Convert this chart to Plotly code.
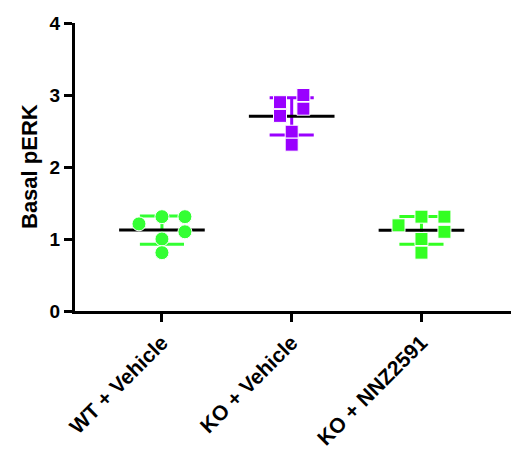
import numpy as np
import plotly.graph_objects as go

# ---- data ----
categories = ["WT + Vehicle", "KO + Vehicle", "KO + NNZ2591"]
wt_vehicle = [1.21, 1.31, 1.31, 1.10, 1.00, 0.81]
ko_vehicle = [2.90, 3.00, 2.81, 2.71, 2.49, 2.31]
ko_nnz2591 = [1.19, 1.31, 1.31, 1.10, 1.00, 0.81]
y_ticks = [0, 1, 2, 3, 4]
y_title = "Basal pERK"

# ---- style ----
groups = [wt_vehicle, ko_vehicle, ko_nnz2591]
colors = ["#33ff33", "#9900ff", "#33ff22"]
symbols = ["circle", "square", "square"]
msizes = [14, 13, 13]
# horizontal scatter spread (in category units) for each point
x_offsets = [
    [-0.177, 0, 0.177, 0.177, 0, 0],
    [-0.09, 0.09, 0.09, -0.09, 0, 0],
    [-0.177, 0, 0.177, 0.177, 0, 0],
]
mean_half = 0.33
cap_half = 0.17
FONT = "Liberation Sans, Arial, sans-serif"

fig = go.Figure()
for i, (vals, col) in enumerate(zip(groups, colors)):
    v = np.array(vals)
    m = v.mean()
    sd = v.std(ddof=1)
    fig.add_trace(go.Scatter(
        x=[i, i, None, i - cap_half, i + cap_half, None, i - cap_half, i + cap_half],
        y=[m - sd, m + sd, None, m + sd, m + sd, None, m - sd, m - sd],
        mode="lines", line=dict(color=col, width=3), hoverinfo="skip", showlegend=False))
    fig.add_trace(go.Scatter(
        x=[i - mean_half, i + mean_half], y=[m, m],
        mode="lines", line=dict(color="black", width=3), hoverinfo="skip", showlegend=False))
for i, (vals, col) in enumerate(zip(groups, colors)):
    fig.add_trace(go.Scatter(
        x=[i + o for o in x_offsets[i]], y=vals, mode="markers",
        marker=dict(symbol=symbols[i], size=msizes[i], color=col,
                    line=dict(color="white", width=1)),
        showlegend=False))

# page body has an 8px default margin, so the figure is sized to fit the window
fig.update_layout(
    width=512, height=447,
    margin=dict(l=67, r=9, t=15, b=144),
    paper_bgcolor="white", plot_bgcolor="white",
    font=dict(family=FONT, color="black"),
    showlegend=False,
)
fig.update_xaxes(
    range=[-0.67, 2.69], tickmode="array", tickvals=[0, 1, 2], ticktext=categories,
    tickangle=-45, showline=True, linecolor="black", linewidth=3,
    ticks="outside", ticklen=8, tickwidth=3, tickcolor="black",
    showgrid=False, zeroline=False, automargin=False,
    tickfont=dict(family=FONT, size=21, color="black", weight="bold"),
)
fig.update_yaxes(
    range=[0, 4], tickmode="array", tickvals=y_ticks,
    showline=True, linecolor="black", linewidth=3,
    ticks="outside", ticklen=8, tickwidth=3, tickcolor="black",
    showgrid=False, zeroline=False, automargin=False,
    tickfont=dict(family=FONT, size=19, color="black", weight="bold"),
)
fig.add_annotation(
    text=y_title, xref="paper", yref="paper", x=0, y=0.5,
    xanchor="center", yanchor="middle", xshift=-46, textangle=-90,
    showarrow=False, font=dict(family=FONT, size=22, color="black", weight="bold"),
)
fig.write_html("out.html")
